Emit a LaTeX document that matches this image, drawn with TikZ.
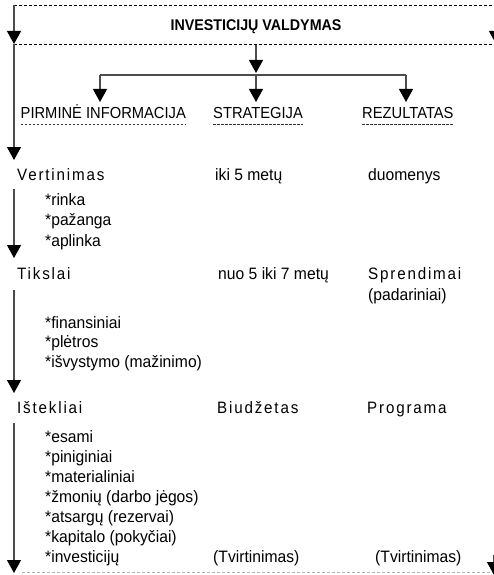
\documentclass[tikz,border=0pt]{standalone}
\usepackage{fontspec}
\setmainfont{Liberation Sans}[FakeStretch=0.92]
\newfontfamily\widefont{Liberation Sans}[FakeStretch=0.95]
\newfontfamily\spacedfont{Liberation Sans}[FakeStretch=0.92,LetterSpace=11]
\usetikzlibrary{arrows.meta}
\tikzset{
  caps/.style={anchor=base west, inner sep=0pt, font=\fontsize{16}{18}\selectfont},
  txt/.style={anchor=base west, inner sep=0pt, font=\fontsize{16.5}{19}\selectfont\widefont},
  sp/.style={anchor=base west, inner sep=0pt, font=\fontsize{16.5}{19}\selectfont\spacedfont},
  flow/.style={draw=black!70, line width=1.1pt, -{Triangle[length=13pt,width=14pt,black]}},
  dashline/.style={draw=black, line width=0.8pt, dash pattern=on 3pt off 2pt},
  undl/.style={draw=black!80, line width=0.7pt, dash pattern=on 2.5pt off 1.5pt},
}
\begin{document}
\begin{tikzpicture}[x=1pt,y=-1pt]
\useasboundingbox (0,0) rectangle (494,575);
% frame coordinates
\coordinate (tl) at (14,5);
\coordinate (tr) at (494,5);
\coordinate (ml) at (14,44);
\coordinate (mr) at (496,44);
\coordinate (rtop) at (496,5);
\coordinate (bl) at (22,572);
\coordinate (br) at (494,572);
\coordinate (brtop) at (494,555);
\coordinate (brtip) at (494,575);
% dashed lines
\draw[dashline] (tl) -- (tr);
\draw[dashline] (ml) -- (mr);
\draw[draw=black!30, line width=0.8pt, dash pattern=on 3pt off 2pt] (bl) -- (br);
% title
\node[anchor=base, inner sep=0pt, font=\fontsize{15.5}{18}\selectfont\bfseries] (title) at (256,31) {INVESTICIJŲ VALDYMAS};
% headers
\node[caps] (h1) at (20.5,118) {PIRMINĖ INFORMACIJA};
\node[caps] (h2) at (213,118) {STRATEGIJA};
\node[caps] (h3) at (362,118) {REZULTATAS};
\foreach \h in {h1,h2,h3} \draw[undl] ([yshift=-6pt]\h.base west) -- ([yshift=-6pt]\h.base east);
% distribution tree
\coordinate (c0) at (256,45);
\coordinate (c1) at (256,75);
\coordinate (jl) at (100,75);
\coordinate (jr) at (406,75);
\coordinate (a1) at (100,102);
\coordinate (a2) at (256,102);
\coordinate (a3) at (406,102);
\draw[flow] (c0) -- (256,73);
\draw[draw=black!70, line width=1.1pt] (jl) -- (jr);
\draw[flow] (jl) -- (a1);
\draw[flow] (c1) -- (a2);
\draw[flow] (jr) -- (a3);
% left flow
\coordinate (s1) at (14,160);
\coordinate (s2a) at (14,189);
\coordinate (s2b) at (14,258);
\coordinate (s3a) at (14,290);
\coordinate (s3b) at (14,393);
\coordinate (s4a) at (14,423);
\coordinate (s4b) at (14,573);
\draw[flow] (tl) -- (ml);
\draw[flow] (ml) -- (s1);
\draw[flow] (s2a) -- (s2b);
\draw[flow] (s3a) -- (s3b);
\draw[flow] (s4a) -- (s4b);
\draw[flow] (rtop) -- (mr);
\draw[flow] (brtop) -- (brtip);
% row 1
\node[sp] (v) at (17,180) {Vertinimas};
\node[txt] (v2) at (215,180) {iki 5 metų};
\node[txt] (v3) at (368,180) {duomenys};
\node[txt] (r1) at (45,205) {*rinka};
\node[txt] (r2) at (45,225.5) {*pažanga};
\node[txt] (r3) at (45,246) {*aplinka};
% row 2
\node[sp] (t) at (17,279) {Tikslai};
\node[txt] (t2) at (218,279) {nuo 5 iki 7 metų};
\node[sp] (t3) at (368,279) {Sprendimai};
\node[txt] (t4) at (368,300) {(padariniai)};
\node[txt] (f1) at (45,328) {*finansiniai};
\node[txt] (f2) at (45,347.5) {*plėtros};
\node[txt] (f3) at (45,367) {*išvystymo (mažinimo)};
% row 3
\node[sp] (i) at (17,413) {Ištekliai};
\node[sp] (i2) at (217,413) {Biudžetas};
\node[sp] (i3) at (367,413) {Programa};
\node[txt] (e1) at (45,442) {*esami};
\node[txt] (e2) at (45,462) {*piniginiai};
\node[txt] (e3) at (45,482) {*materialiniai};
\node[txt] (e4) at (45,502) {*žmonių (darbo jėgos)};
\node[txt] (e5) at (45,522) {*atsargų (rezervai)};
\node[txt] (e6) at (45,542) {*kapitalo (pokyčiai)};
\node[txt] (e7) at (45,562) {*investicijų};
\node[txt] (tv1) at (213,562) {(Tvirtinimas)};
\node[txt] (tv2) at (375,562) {(Tvirtinimas)};
\end{tikzpicture}
\end{document}
